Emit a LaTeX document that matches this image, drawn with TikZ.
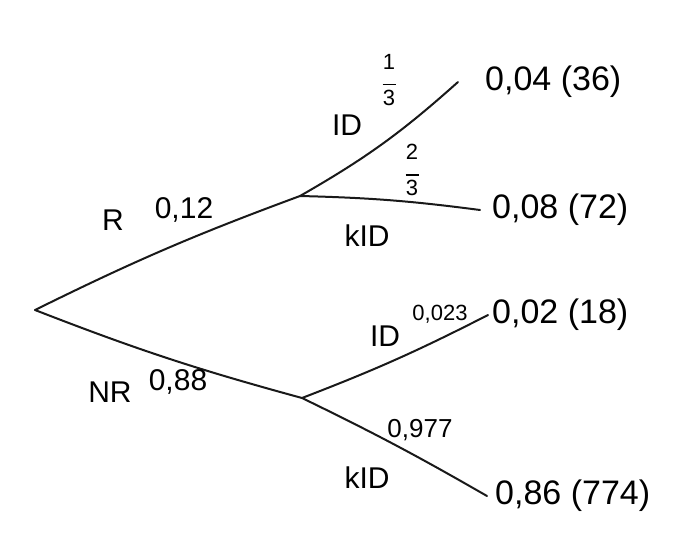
\documentclass[tikz,border=0pt]{standalone}
\usepackage{fontspec}
\setmainfont{Liberation Sans}
\begin{document}
\begin{tikzpicture}[x=1pt,y=-1pt,
  branch/.style={line width=2pt, line cap=round, black!90},
  lbl/.style={font=\fontsize{30}{34}\selectfont, inner sep=0pt},
  leaf/.style={font=\fontsize{34}{38}\selectfont, inner ysep=0pt, anchor=west},
  fracbox/.style={font=\fontsize{22}{22}\selectfont, inner sep=0pt, align=center}]
\useasboundingbox (0,0) rectangle (680,551);
\coordinate (root) at (35,310);
\coordinate (u) at (300,196);
\coordinate (l) at (302,398);
\node[leaf, inner xsep=27pt] (uu) at (458,82) {0,04 (36)};
\node[leaf, inner xsep=12pt] (ul) at (480,210) {0,08 (72)};
\node[leaf, inner xsep=4pt] (lu) at (488,315) {0,02 (18)};
\node[leaf, inner xsep=8pt] (ll) at (487,496) {0,86 (774)};
\draw[branch] (root) to[bend left=3] (u);
\draw[branch] (root) to[bend left=-3] (l);
\draw[branch] (u) to[bend left=-6] (uu.west);
\draw[branch] (u) to[bend left=3] (ul.west);
\draw[branch] (l) to[bend left=-3] (lu.west);
\draw[branch] (l) to[bend left=2] (ll.west);
\node[lbl] (tR) at (113,220) {R};
\node[lbl] (tRp) at (184,210) {0,12};
\node[lbl] (tNR) at (110,392) {NR};
\node[lbl] (tNRp) at (178,382) {0,88};
\node[lbl] (tID1) at (347,125) {ID};
\node[fracbox] (f13) at (389,80) {1\\[-6pt]\rule{13pt}{1.5pt}\\[-2pt]3};
\node[fracbox] (f23) at (412,170) {2\\[-6pt]\rule{13pt}{1.5pt}\\[-2pt]3};
\node[lbl] (tKID1) at (367,236) {kID};
\node[lbl] (tID2) at (385,336) {ID};
\node[lbl, font=\fontsize{22}{26}\selectfont] (tIDp) at (440,314) {0,023};
\node[lbl, font=\fontsize{26}{30}\selectfont] (tKp) at (420,430) {0,977};
\node[lbl] (tKID2) at (367,478) {kID};
\end{tikzpicture}
\end{document}
